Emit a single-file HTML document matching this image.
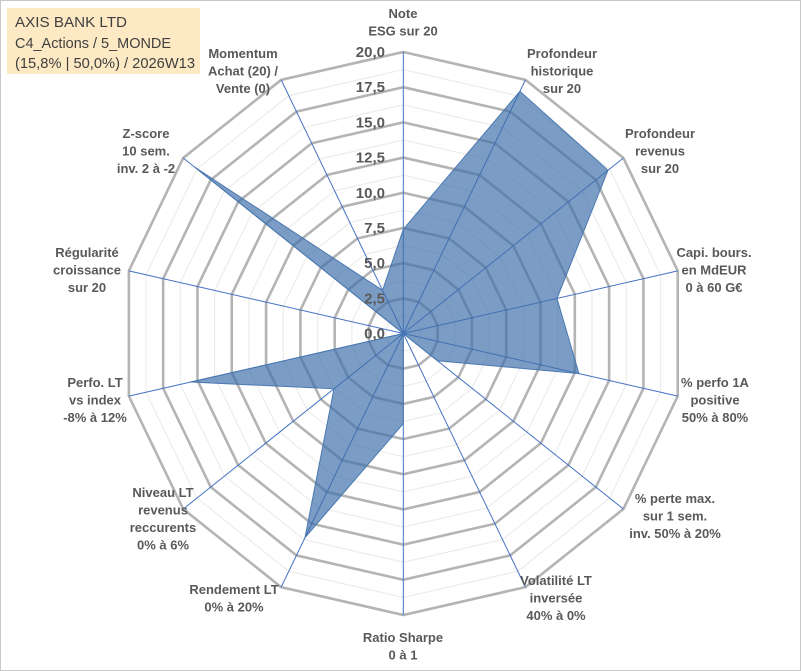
<!DOCTYPE html>
<html><head><meta charset="utf-8"><style>
body{margin:0;background:#fff}
svg{display:block}
text{font-family:"Liberation Sans",sans-serif}
</style></head><body>
<svg id="c" width="801" height="671">
<rect x="0.5" y="0.5" width="800" height="670" fill="#fff" stroke="#c8c8c8"/>
<g id="grid"></g><g id="spokes"></g><g id="series"></g><g id="ticks"></g><g id="labels"></g>
<g>
<rect x="7" y="8" width="193" height="66" fill="#fde9c4"/>
<text x="15" y="27" font-size="15" fill="#404040" textLength="112" lengthAdjust="spacingAndGlyphs">AXIS BANK LTD</text>
<text x="15" y="48" font-size="15" fill="#404040" textLength="156" lengthAdjust="spacingAndGlyphs">C4_Actions / 5_MONDE</text>
<text x="15" y="68" font-size="15" fill="#404040" textLength="180" lengthAdjust="spacingAndGlyphs">(15,8% | 50,0%) / 2026W13</text>
</g>
</svg>
<script>
const categories=[["Note","ESG sur 20"],["Profondeur","historique","sur 20"],["Profondeur","revenus","sur 20"],["Capi. bours.","en MdEUR","0 à 60 G€"],["% perfo 1A","positive","50% à 80%"],["% perte max.","sur 1 sem.","inv. 50% à 20%"],["Volatilité LT","inversée","40% à 0%"],["Ratio Sharpe","0 à 1"],["Rendement LT","0% à 20%"],["Niveau LT","revenus","reccurents","0% à 6%"],["Perfo. LT","vs index","-8% à 12%"],["Régularité","croissance","sur 20"],["Z-score","10 sem.","inv. 2 à -2"],["Momentum","Achat (20) /","Vente (0)"]];
const values=[7.4,19.1,18.6,11.2,12.8,3.1,0,6.4,16.1,6.3,15.5,0,19.0,3.4];
const tickLabels=["0,0","2,5","5,0","7,5","10,0","12,5","15,0","17,5","20,0"];
const labelPos=[[403,13],[562,53],[660,133],[714,252],[715,382],[675,498],[556,580],[403,637],[234,589],[163,492],[95,382],[87,252],[146,133],[243,53]];
const NS="http://www.w3.org/2000/svg";
const cx=403.3,cy=333.5,R=281.5,maxV=20,n=categories.length;
function ang(i){return i*2*Math.PI/n;}
function pt(i,v){const r=v/maxV*R;return [cx+r*Math.sin(ang(i)),cy-r*Math.cos(ang(i))];}
function mk(t,a,p){const e=document.createElementNS(NS,t);for(const k in a)e.setAttribute(k,a[k]);p.appendChild(e);return e;}
const grid=document.getElementById('grid');
for(let k=1;k<=16;k++){const v=k*1.25;const pts=[];for(let i=0;i<n;i++)pts.push(pt(i,v).join(','));
const major=k%2==0;
const e=mk('polygon',{points:pts.join(' '),fill:'none',stroke:major?'#b4b4b4':'#ececec','stroke-width':major?2.6:1.2},grid);

}
const sp=document.getElementById('spokes');
for(let i=0;i<n;i++){const p=pt(i,maxV);const e=mk('line',{x1:cx,y1:cy,x2:p[0],y2:p[1],stroke:'#4472c4','stroke-width':1},sp);

}
const ser=document.getElementById('series');
const poly=mk('polygon',{points:values.map((v,i)=>pt(i,v).join(',')).join(' '),fill:'rgba(60,110,170,0.68)',stroke:'#4a78b0','stroke-width':1},ser);


const tk=document.getElementById('ticks');
tickLabels.forEach((t,k)=>{const y=cy-k*2.5/maxV*R;const e=mk('text',{x:385,y:y+5,'text-anchor':'end','font-size':15,'font-weight':'bold',fill:'#595959'},tk);e.textContent=t;

});
const lb=document.getElementById('labels');
categories.forEach((c,i)=>{const g=mk('text',{'text-anchor':'middle','font-size':13,'font-weight':'bold',fill:'#595959'},lb);


c.forEach((l,j)=>{const s=mk('tspan',{x:labelPos[i][0],y:labelPos[i][1]+5+j*17.5},g);s.textContent=l;});});
</script>
</body></html>
